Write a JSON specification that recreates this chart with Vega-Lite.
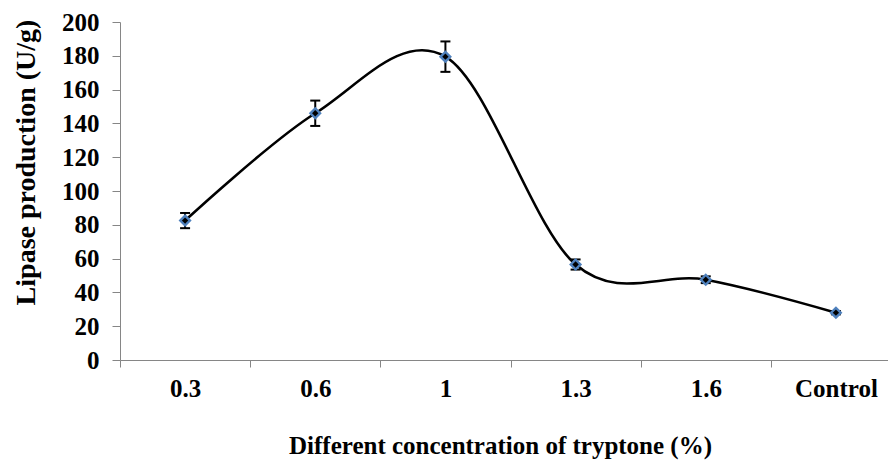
{
  "$schema": "https://vega.github.io/schema/vega-lite/v6.json",
  "width": 768,
  "height": 338,
  "autosize": {"type": "none"},
  "padding": {"left": 120, "top": 22, "right": 0, "bottom": 103},
  "background": "white",
  "config": {
    "view": {"stroke": null},
    "font": "Liberation Serif",
    "axisY": {
      "tickCount": 10,
      "labelFontSize": 25,
      "labelFontWeight": "bold",
      "labelColor": "black",
      "labelPadding": 13,
      "labelOverlap": false,
      "tickSize": 8,
      "tickColor": "#868686",
      "domainColor": "#868686",
      "grid": false
    }
  },
  "data": {
    "values": [
      {"conc": "0.3", "value": 82.5, "lo": 78.0, "hi": 87.0},
      {"conc": "0.6", "value": 146.0, "lo": 138.5, "hi": 153.5},
      {"conc": "1", "value": 179.5, "lo": 170.5, "hi": 188.5},
      {"conc": "1.3", "value": 56.5, "lo": 53.5, "hi": 59.5},
      {"conc": "1.6", "value": 47.5, "lo": 45.5, "hi": 49.5},
      {"conc": "Control", "value": 28.0, "lo": 27.0, "hi": 29.0}
    ]
  },
  "encoding": {
    "x": {
      "field": "conc",
      "type": "ordinal",
      "sort": null,
      "scale": {"type": "band", "range": [0, 781], "paddingInner": 0, "paddingOuter": 0},
      "axis": {
        "title": "Different concentration of tryptone (%)",
        "titleFontSize": 25,
        "titleFontWeight": "bold",
        "titleColor": "black",
        "titleX": 380,
        "titleY": 85,
        "titleAlign": "center",
        "titleBaseline": "middle",
        "labelFontSize": 25,
        "labelFontWeight": "bold",
        "labelColor": "black",
        "labelAngle": 0,
        "labelPadding": 9,
        "labelOverlap": false,
        "tickBand": "extent",
        "tickSize": 7,
        "tickColor": "#868686",
        "domainColor": "#868686",
        "grid": false
      }
    }
  },
  "layer": [
    {
      "mark": {"type": "line", "interpolate": "cardinal", "tension": 0, "color": "black", "strokeWidth": 2.6},
      "encoding": {
        "y": {
          "field": "value",
          "type": "quantitative",
          "scale": {"domain": [0, 200], "nice": false},
          "axis": {
            "title": "Lipase production (U/g)",
            "titleFontSize": 28,
            "titleFontWeight": "bold",
            "titleColor": "black",
            "titleAngle": -90,
            "titleX": -94,
            "titleY": 140,
            "titleAlign": "center",
            "titleBaseline": "middle"
          }
        }
      }
    },
    {
      "mark": {"type": "rule", "color": "black", "strokeWidth": 2},
      "encoding": {
        "y": {"field": "lo", "type": "quantitative"},
        "y2": {"field": "hi"}
      }
    },
    {
      "mark": {"type": "tick", "color": "black", "size": 10, "thickness": 2, "orient": "horizontal", "opacity": 1},
      "encoding": {"y": {"field": "lo", "type": "quantitative"}}
    },
    {
      "mark": {"type": "tick", "color": "black", "size": 10, "thickness": 2, "orient": "horizontal", "opacity": 1},
      "encoding": {"y": {"field": "hi", "type": "quantitative"}}
    },
    {
      "mark": {"type": "point", "shape": "diamond", "filled": true, "color": "#4F81BD", "size": 170, "opacity": 1},
      "encoding": {"y": {"field": "value", "type": "quantitative"}}
    },
    {
      "mark": {"type": "point", "shape": "diamond", "filled": true, "color": "black", "size": 40, "opacity": 1},
      "encoding": {"y": {"field": "value", "type": "quantitative"}}
    }
  ]
}
